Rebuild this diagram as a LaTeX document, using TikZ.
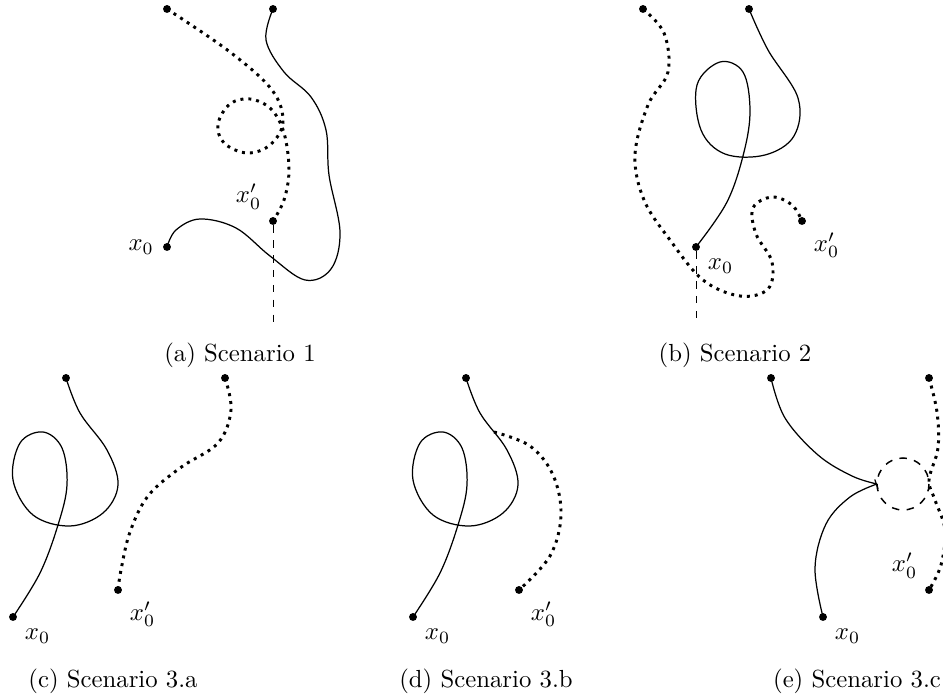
\documentclass[tikz,border=0pt]{standalone}
\usetikzlibrary{positioning,arrows.meta}
\begin{document}
\begin{tikzpicture}[x=0.0142cm, y=-0.0142cm,
    pt/.style={circle, fill, inner sep=0pt, minimum size=3.2pt},
    traj/.style={line width=0.5pt},
    dtraj/.style={very thick, dotted},
    vline/.style={dashed, thin},
    ball/.style={dashed, semithick}]
  \useasboundingbox (0,0) rectangle (943,695);
  \clip (0,0) rectangle (943,695);

  % (a) Scenario 1
  \node[pt] (a1) at (167,9) {};
  \node[pt] (a2) at (273,9) {};
  \node[pt] (a0) at (167,247) {};
  \node[pt] (a0p) at (273,221) {};
  \coordinate (aend) at (273,323);
  \node[left=0pt of a0] {$x_0$};
  \node[above left=0pt of a0p] {$x_0'$};
  \draw[dtraj] plot[smooth, tension=0.6] coordinates {(a1.center) (230,52) (272,90) (283,122) (270,145) (247,153) (224,143) (218,124) (230,104) (250,99) (271,109) (284,133) (289,170) (284,200) (a0p.center)};
  \draw[traj] plot[smooth, tension=0.6] coordinates {(a2.center) (266,40) (284,72) (311,97) (326,130) (329,175) (340,232) (331,269) (305,280) (270,256) (236,228) (200,219) (176,230) (a0.center)};
  \draw[vline] (a0p) -- (aend);
  \node (capa) at (240,355) {(a) Scenario 1};

  % (b) Scenario 2
  \node[pt] (b1) at (643,9) {};
  \node[pt] (b2) at (749,9) {};
  \node[pt] (b0) at (696,247) {};
  \node[pt] (b0p) at (802,221) {};
  \coordinate (bend) at (696,318);
  \node[below right=0pt of b0] {$x_0$};
  \node[below right=0pt of b0p] {$x_0'$};
  \draw[dtraj] plot[smooth, tension=0.6] coordinates {(b1.center) (664,33) (668,72) (648,105) (635,155) (644,200) (670,240) (703,280) (740,296) (768,289) (772,262) (756,234) (753,208) (772,197) (792,205) (b0p.center)};
  \draw[traj] plot[smooth, tension=0.6] coordinates {(b2.center) (768,50) (798,98) (794,136) (765,155) (725,154) (701,130) (697,85) (720,62) (743,72) (750,110) (744,152) (727,202) (b0.center)};
  \draw[vline] (b0) -- (bend);
  \node (capb) at (735,355) {(b) Scenario 2};

  % (c) Scenario 3.a
  \node[pt] (c2) at (66,378) {};
  \node[pt] (c1) at (225,378) {};
  \node[pt] (c0) at (13,617) {};
  \node[pt] (c0p) at (118,590) {};
  \node[below right=0pt of c0] {$x_0$};
  \node[below right=0pt of c0p] {$x_0'$};
  \draw[traj] plot[smooth, tension=0.6] coordinates {(c2.center) (80,413) (107,450) (118,485) (103,513) (70,526) (33,515) (13,480) (20,443) (43,432) (62,448) (67,485) (58,525) (40,573) (c0.center)};
  \draw[dtraj] plot[smooth, tension=0.6] coordinates {(c1.center) (231,410) (218,443) (180,468) (148,496) (130,532) (121,570) (c0p.center)};
  \node (capc) at (113,681) {(c) Scenario 3.a};

  % (d) Scenario 3.b
  \node[pt] (d2) at (466,378) {};
  \node[pt] (d0) at (413,617) {};
  \node[pt] (d0p) at (519,590) {};
  \coordinate (dsplit) at (494,432);
  \node[below right=0pt of d0] {$x_0$};
  \node[below right=0pt of d0p] {$x_0'$};
  \draw[traj] plot[smooth, tension=0.6] coordinates {(d2.center) (480,413) (507,450) (518,485) (503,513) (470,526) (433,515) (413,480) (420,443) (443,432) (462,448) (467,485) (458,525) (440,573) (d0.center)};
  \draw[dtraj] plot[smooth, tension=0.6] coordinates {(dsplit) (530,446) (553,475) (561,515) (550,556) (d0p.center)};
  \node (capd) at (486,681) {(d) Scenario 3.b};

  % (e) Scenario 3.c
  \node[pt] (e2) at (771,378) {};
  \node[pt] (e1) at (929,378) {};
  \node[pt] (e0) at (823,617) {};
  \node[pt] (e0p) at (929,590) {};
  \coordinate (emeet) at (877,484);
  \draw[ball] (903,484) circle (26);
  \node[below right=0pt of e0] {$x_0$};
  \node[above left=0pt of e0p] {$x_0'$};
  \draw[traj] plot[smooth, tension=0.6] coordinates {(e2.center) (785,418) (818,455) (852,476) (emeet)};
  \draw[traj, -{Bar[width=4pt]}] plot[smooth, tension=0.6] coordinates {(e0.center) (815,568) (826,524) (850,497) (emeet)};
  \draw[dtraj] plot[smooth, tension=0.6] coordinates {(e1.center) (937,412) (938,448) (929,480) (935,500) (945,530) (941,565) (e0p.center)};
  \node (cape) at (857,681) {(e) Scenario 3.c};
\end{tikzpicture}
\end{document}
